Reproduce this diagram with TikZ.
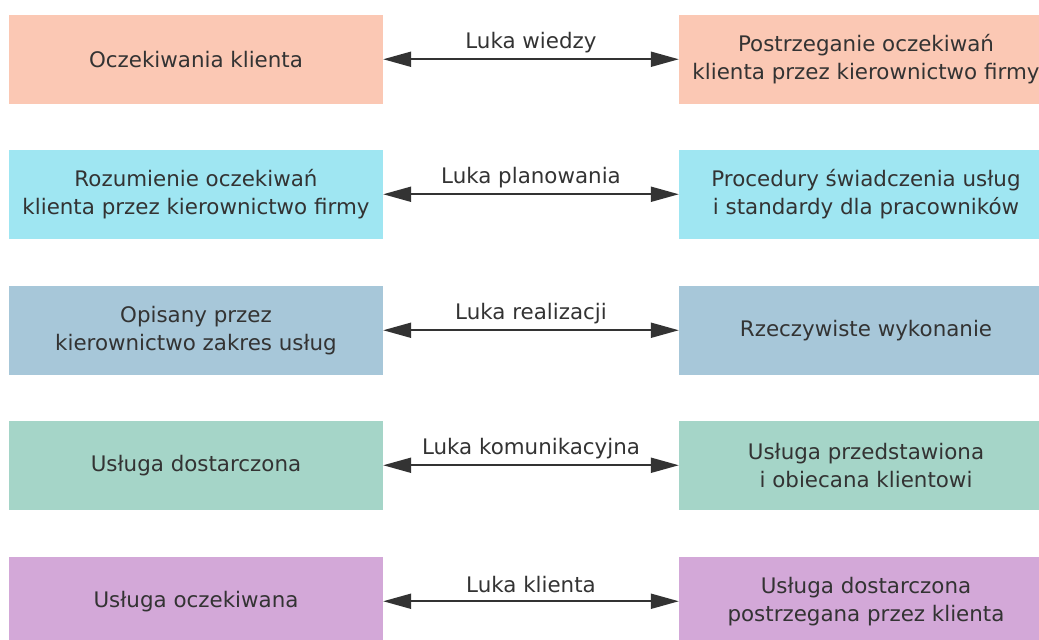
\documentclass[tikz,border=0pt]{standalone}
\usepackage{fontspec}
\setmainfont{DejaVu Sans}
\usetikzlibrary{arrows.meta}
\definecolor{txt}{HTML}{333333}
\definecolor{cA}{HTML}{FBC8B4}
\definecolor{cB}{HTML}{9FE6F2}
\definecolor{cC}{HTML}{A7C7D9}
\definecolor{cD}{HTML}{A5D5C8}
\definecolor{cE}{HTML}{D3A8D8}
\tikzset{
  box/.style={minimum width=374pt, minimum height=88.5pt, inner sep=0pt, align=center, text=txt, font=\fontsize{21.4}{28}\selectfont},
  gaparrow/.style={draw=txt, line width=2pt, {Triangle[length=28pt,width=15pt]}-{Triangle[length=28pt,width=15pt]}},
  gaplabel/.style={text=txt, font=\fontsize{21.4}{26}\selectfont, inner sep=0pt}
}
\begin{document}
\begin{tikzpicture}[x=1pt,y=-1pt]
\useasboundingbox (0,0) rectangle (1039,640);
\clip (0,0) rectangle (1039,640);
\node[box, fill=cA] (l1) at (196,59.25) {Oczekiwania klienta};
\node[box, fill=cA] (r1) at (866,59.25) {Postrzeganie oczekiwań\\klienta przez kierownictwo firmy};
\node[box, fill=cB] (l2) at (196,194.25) {Rozumienie oczekiwań\\klienta przez kierownictwo firmy};
\node[box, fill=cB] (r2) at (866,194.25) {Procedury świadczenia usług\\i standardy dla pracowników};
\node[box, fill=cC] (l3) at (196,330.25) {Opisany przez\\kierownictwo zakres usług};
\node[box, fill=cC] (r3) at (866,330.25) {Rzeczywiste wykonanie};
\node[box, fill=cD] (l4) at (196,465.25) {Usługa dostarczona};
\node[box, fill=cD] (r4) at (866,465.25) {Usługa przedstawiona\\i obiecana klientowi};
\node[box, fill=cE] (l5) at (196,601.25) {Usługa oczekiwana};
\node[box, fill=cE] (r5) at (866,601.25) {Usługa dostarczona\\postrzegana przez klienta};
\draw[gaparrow] (l1.east) -- (r1.west) node[gaplabel, midway, yshift=17pt] (g1) {Luka wiedzy};
\draw[gaparrow] (l2.east) -- (r2.west) node[gaplabel, midway, yshift=17pt] (g2) {Luka planowania};
\draw[gaparrow] (l3.east) -- (r3.west) node[gaplabel, midway, yshift=17pt] (g3) {Luka realizacji};
\draw[gaparrow] (l4.east) -- (r4.west) node[gaplabel, midway, yshift=17pt] (g4) {Luka komunikacyjna};
\draw[gaparrow] (l5.east) -- (r5.west) node[gaplabel, midway, yshift=17pt] (g5) {Luka klienta};
\end{tikzpicture}
\end{document}
